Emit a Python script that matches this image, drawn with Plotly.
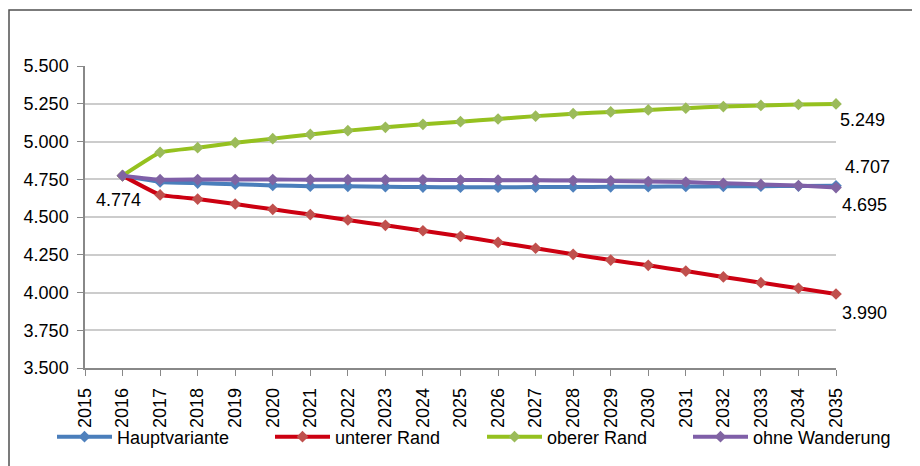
import plotly.graph_objects as go

years = list(range(2016, 2036))
hauptvariante = [4.774, 4.732, 4.725, 4.717, 4.709, 4.704, 4.703, 4.701, 4.698, 4.697,
                 4.697, 4.698, 4.699, 4.700, 4.701, 4.702, 4.703, 4.704, 4.705, 4.707]
unterer_rand = [4.774, 4.646, 4.619, 4.586, 4.551, 4.516, 4.480, 4.445, 4.409, 4.372,
                4.332, 4.293, 4.253, 4.215, 4.180, 4.142, 4.103, 4.065, 4.028, 3.990]
oberer_rand = [4.774, 4.928, 4.959, 4.992, 5.019, 5.047, 5.072, 5.094, 5.114, 5.131,
               5.149, 5.168, 5.184, 5.196, 5.209, 5.221, 5.231, 5.239, 5.245, 5.249]
ohne_wanderung = [4.774, 4.747, 4.748, 4.748, 4.748, 4.747, 4.747, 4.746, 4.746, 4.745,
                  4.744, 4.743, 4.741, 4.739, 4.735, 4.731, 4.723, 4.716, 4.708, 4.695]

series = [
    ("Hauptvariante", hauptvariante, "#4a7ebb", "#4f81bd"),
    ("unterer Rand", unterer_rand, "#cc0011", "#c0504d"),
    ("oberer Rand", oberer_rand, "#95c11f", "#9bbb59"),
    ("ohne Wanderung", ohne_wanderung, "#7f5fa8", "#8064a2"),
]

W, H = 912, 458
ML, MR, MT, MB = 77, 84, 58, 98
PW, PH = W - ML - MR, H - MT - MB

font = "Liberation Sans, Arial, sans-serif"
legend_ids = ["legend", "legend2", "legend3", "legend4"]
legend_x = [44, 262, 474, 680]

fig = go.Figure()
for (name, vals, lc, mc), lid in zip(series, legend_ids):
    fig.add_trace(go.Scatter(
        x=years, y=vals, name=name, mode="lines+markers",
        line=dict(color=lc, width=4, shape="spline", smoothing=0.3),
        marker=dict(symbol="diamond", size=9, color=mc),
        cliponaxis=False, legend=lid,
    ))

def fmt(v):
    return f"{v:.3f}"

annotations = [
    dict(x=years[0], y=hauptvariante[0], text=fmt(hauptvariante[0]), xanchor="center",
         yanchor="middle", xshift=-4, yshift=-24),
    dict(x=years[-1], y=oberer_rand[-1], text=fmt(oberer_rand[-1]), xanchor="left",
         yanchor="middle", xshift=2, yshift=-16),
    dict(x=years[-1], y=hauptvariante[-1], text=fmt(hauptvariante[-1]), xanchor="left",
         yanchor="middle", xshift=7, yshift=19),
    dict(x=years[-1], y=ohne_wanderung[-1], text=fmt(ohne_wanderung[-1]), xanchor="left",
         yanchor="middle", xshift=4, yshift=-17),
    dict(x=years[-1], y=unterer_rand[-1], text=fmt(unterer_rand[-1]), xanchor="left",
         yanchor="middle", xshift=4, yshift=-19),
]
for a in annotations:
    a.update(xref="x", yref="y", showarrow=False, font=dict(family=font, size=18, color="#000"))

layout_legends = {}
for lid, lx in zip(legend_ids, legend_x):
    layout_legends[lid] = dict(
        orientation="h", xref="container", yref="container",
        x=lx / W, xanchor="left", y=(H - 429) / H, yanchor="middle",
        font=dict(family=font, size=18, color="#000"),
        itemwidth=55, bgcolor="rgba(0,0,0,0)", borderwidth=0,
    )

fig.update_layout(
    width=W, height=H,
    margin=dict(l=ML, r=MR, t=MT, b=MB),
    paper_bgcolor="white", plot_bgcolor="white",
    font=dict(family=font, size=18, color="#000"),
    showlegend=True,
    annotations=annotations,
    shapes=[dict(type="rect", xref="paper", yref="paper",
                 x0=(1 - ML) / PW, x1=(W + 10 - ML) / PW,
                 y0=(MT + PH - H - 10) / PH, y1=(MT + PH - 2) / PH,
                 line=dict(color="#505050", width=1.5), fillcolor="rgba(0,0,0,0)",
                 layer="below")],
    **layout_legends,
)
fig.update_xaxes(range=[2015, 2035], dtick=1, tick0=2015, tickangle=-90,
                 showgrid=False, showline=True, linecolor="#888", linewidth=1.5,
                 ticks="outside", ticklen=6, tickcolor="#888", tickfont=dict(size=18),
                 ticklabelstandoff=5, zeroline=False, automargin=False)
fig.update_yaxes(range=[3.5, 5.5], dtick=0.25, tickformat=".3f",
                 showgrid=True, gridcolor="#cccccc", gridwidth=1.5,
                 showline=True, linecolor="#888", linewidth=1.5,
                 ticks="outside", ticklen=6, tickcolor="#888", tickfont=dict(size=18),
                 ticklabelstandoff=5, zeroline=False, automargin=False)

fig.write_html("out.html")
